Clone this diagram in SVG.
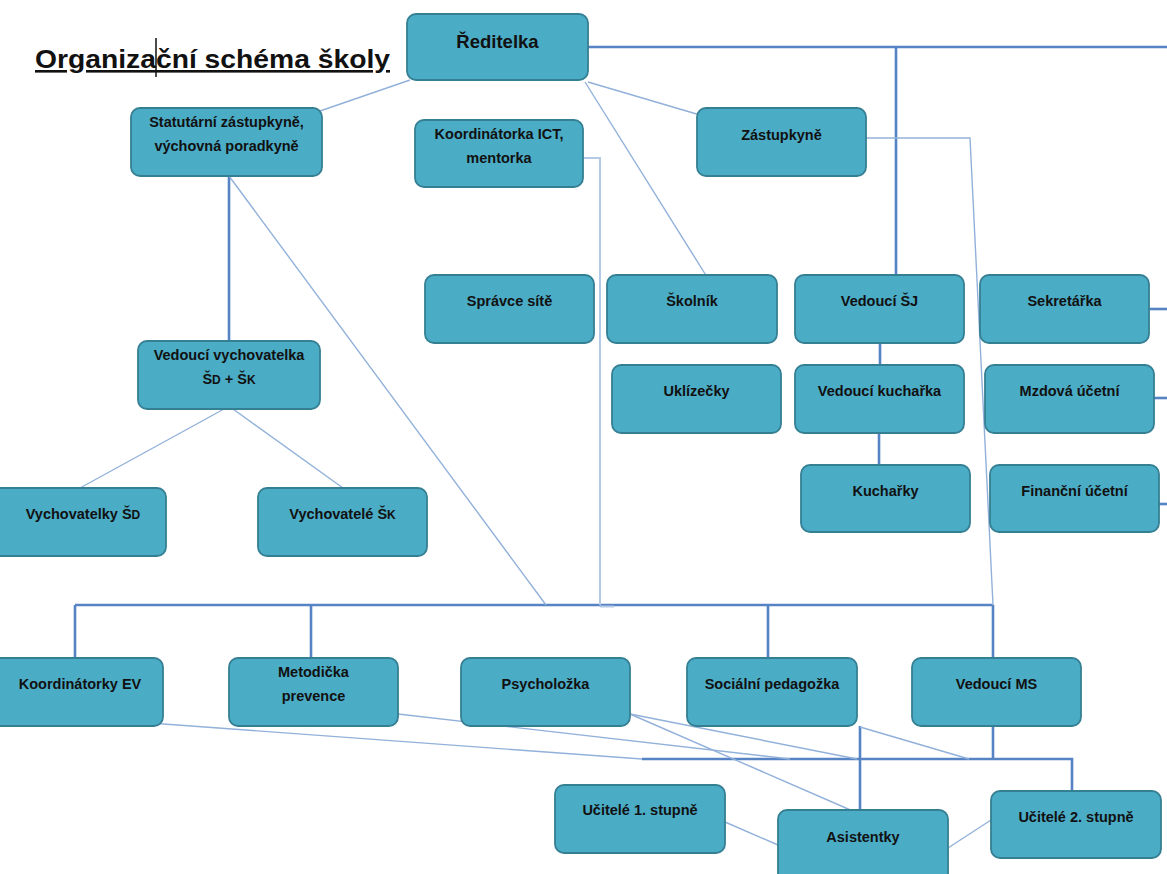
<svg xmlns="http://www.w3.org/2000/svg" width="1167" height="874" viewBox="0 0 1167 874">
  <style>
    .box { fill: #4BACC6; stroke: #357F93; stroke-width: 1.8; }
    .lbl { font-family: "Liberation Sans", Arial, sans-serif; font-weight: 700; font-size: 14.5px; fill: #111; text-anchor: middle; }
    .big { font-size: 18.5px; }
    .sc { font-size: 12px; }
    .main { fill: none; stroke: #5683C4; stroke-width: 2.6; }
    .sub { fill: none; stroke: #92B1DA; stroke-width: 1.4; }
    .pale { fill: none; stroke: #B4C9E6; stroke-width: 2; }
  </style>

  <rect width="1167" height="874" fill="#fff"/>

  <!-- title, with the text cursor standing inside the word -->
  <text x="35" y="68" font-family="'Liberation Sans', Arial, sans-serif" font-size="26" font-weight="700" fill="#111" text-decoration="underline" textLength="355" lengthAdjust="spacingAndGlyphs">Organizační schéma školy</text>
  <line x1="156" y1="38" x2="156" y2="77" stroke="#111" stroke-width="1.5"/>

  <!-- connectors -->
  <g id="connectors">
    <path class="main" d="M588 47 H1167"/>
    <path class="main" d="M896 47 V275"/>
    <path class="main" d="M880 343 V365"/>
    <path class="main" d="M879 433 V465"/>
    <path class="main" d="M1149 309 H1167"/>
    <path class="main" d="M1154 398 H1167"/>
    <path class="main" d="M1159 504 H1167"/>
    <path class="main" d="M229 176 V341"/>
    <path class="main" d="M75 605 H993"/>
    <path class="main" d="M75 605 V658"/>
    <path class="main" d="M311 605 V658"/>
    <path class="main" d="M768 605 V658"/>
    <path class="main" d="M993 605 V658"/>
    <path class="main" d="M993 726 V759"/>
    <path class="main" d="M642 759 H1072 V791"/>
    <path class="main" d="M860 726 V810"/>

    <path class="sub" d="M410 80 L320 111"/>
    <path class="sub" d="M588 82 L700 115"/>
    <path class="sub" d="M585 82 L707 277"/>
    <path class="sub" d="M229 176 L546 605"/>
    <path class="pale" d="M583 158 H600 V605"/>
    <path class="pale" d="M600 606.5 H614"/>
    <path class="sub" d="M866 138 H970 L993 605"/>
    <path class="sub" d="M224 409 L80 488"/>
    <path class="sub" d="M233 409 L343 488"/>
    <path class="sub" d="M150 723 L642 759"/>
    <path class="sub" d="M398 714 L790 759"/>
    <path class="sub" d="M630 714 L857 759"/>
    <path class="sub" d="M630 714 L855 812"/>
    <path class="sub" d="M860 727 L969 759"/>
    <path class="sub" d="M725 822 L778 845"/>
    <path class="sub" d="M948 848 L991 820"/>
  </g>

  <!-- nodes -->
  <g id="reditelka">
    <rect class="box" x="407" y="14" width="181" height="66" rx="9"/>
    <text class="lbl big" x="497.5" y="48">Ředitelka</text>
  </g>
  <g id="statutarni">
    <rect class="box" x="131" y="108" width="191" height="68" rx="9"/>
    <text class="lbl" x="226.5" y="127">Statutární zástupkyně,</text>
    <text class="lbl" x="226.5" y="151">výchovná poradkyně</text>
  </g>
  <g id="koordinatorka-ict">
    <rect class="box" x="415" y="120" width="168" height="67" rx="9"/>
    <text class="lbl" x="499" y="139">Koordinátorka ICT,</text>
    <text class="lbl" x="499" y="163">mentorka</text>
  </g>
  <g id="zastupkyne">
    <rect class="box" x="697" y="108" width="169" height="68" rx="9"/>
    <text class="lbl" x="781.5" y="140">Zástupkyně</text>
  </g>
  <g id="spravce-site">
    <rect class="box" x="425" y="275" width="169" height="68" rx="9"/>
    <text class="lbl" x="509.5" y="306">Správce sítě</text>
  </g>
  <g id="skolnik">
    <rect class="box" x="607" y="275" width="170" height="68" rx="9"/>
    <text class="lbl" x="692" y="306">Školník</text>
  </g>
  <g id="vedouci-sj">
    <rect class="box" x="795" y="275" width="169" height="68" rx="9"/>
    <text class="lbl" x="879.5" y="306">Vedoucí ŠJ</text>
  </g>
  <g id="sekretarka">
    <rect class="box" x="980" y="275" width="169" height="68" rx="9"/>
    <text class="lbl" x="1064.5" y="306">Sekretářka</text>
  </g>
  <g id="uklizecky">
    <rect class="box" x="612" y="365" width="169" height="68" rx="9"/>
    <text class="lbl" x="696.5" y="396">Uklízečky</text>
  </g>
  <g id="vedouci-kucharka">
    <rect class="box" x="795" y="365" width="169" height="68" rx="9"/>
    <text class="lbl" x="879.5" y="396">Vedoucí kuchařka</text>
  </g>
  <g id="mzdova-ucetni">
    <rect class="box" x="985" y="365" width="169" height="68" rx="9"/>
    <text class="lbl" x="1069.5" y="396">Mzdová účetní</text>
  </g>
  <g id="kucharky">
    <rect class="box" x="801" y="465" width="169" height="67" rx="9"/>
    <text class="lbl" x="885.5" y="496">Kuchařky</text>
  </g>
  <g id="financni-ucetni">
    <rect class="box" x="990" y="465" width="169" height="67" rx="9"/>
    <text class="lbl" x="1074.5" y="496">Finanční účetní</text>
  </g>
  <g id="vedouci-vychovatelka">
    <rect class="box" x="138" y="341" width="182" height="68" rx="9"/>
    <text class="lbl" x="229" y="360">Vedoucí vychovatelka</text>
    <text class="lbl" x="229" y="384">Š<tspan class="sc">D</tspan> + Š<tspan class="sc">K</tspan></text>
  </g>
  <g id="vychovatelky-sd">
    <rect class="box" x="-10" y="488" width="176" height="68" rx="9"/>
    <text class="lbl" x="83" y="519">Vychovatelky Š<tspan class="sc">D</tspan></text>
  </g>
  <g id="vychovatele-sk">
    <rect class="box" x="258" y="488" width="169" height="68" rx="9"/>
    <text class="lbl" x="342.5" y="519">Vychovatelé Š<tspan class="sc">K</tspan></text>
  </g>
  <g id="koordinatorky-ev">
    <rect class="box" x="-10" y="658" width="173" height="68" rx="9"/>
    <text class="lbl" x="80" y="689">Koordinátorky EV</text>
  </g>
  <g id="metodicka-prevence">
    <rect class="box" x="229" y="658" width="169" height="68" rx="9"/>
    <text class="lbl" x="313.5" y="677">Metodička</text>
    <text class="lbl" x="313.5" y="701">prevence</text>
  </g>
  <g id="psycholozka">
    <rect class="box" x="461" y="658" width="169" height="68" rx="9"/>
    <text class="lbl" x="545.5" y="689">Psycholožka</text>
  </g>
  <g id="socialni-pedagozka">
    <rect class="box" x="687" y="658" width="170" height="68" rx="9"/>
    <text class="lbl" x="772" y="689">Sociální pedagožka</text>
  </g>
  <g id="vedouci-ms">
    <rect class="box" x="912" y="658" width="169" height="68" rx="9"/>
    <text class="lbl" x="996.5" y="689">Vedoucí MS</text>
  </g>
  <g id="ucitele-1">
    <rect class="box" x="555" y="785" width="170" height="68" rx="9"/>
    <text class="lbl" x="640" y="815">Učitelé 1. stupně</text>
  </g>
  <g id="asistentky">
    <rect class="box" x="778" y="810" width="170" height="74" rx="9"/>
    <text class="lbl" x="863" y="842">Asistentky</text>
  </g>
  <g id="ucitele-2">
    <rect class="box" x="991" y="791" width="170" height="67" rx="9"/>
    <text class="lbl" x="1076" y="822">Učitelé 2. stupně</text>
  </g>
</svg>
